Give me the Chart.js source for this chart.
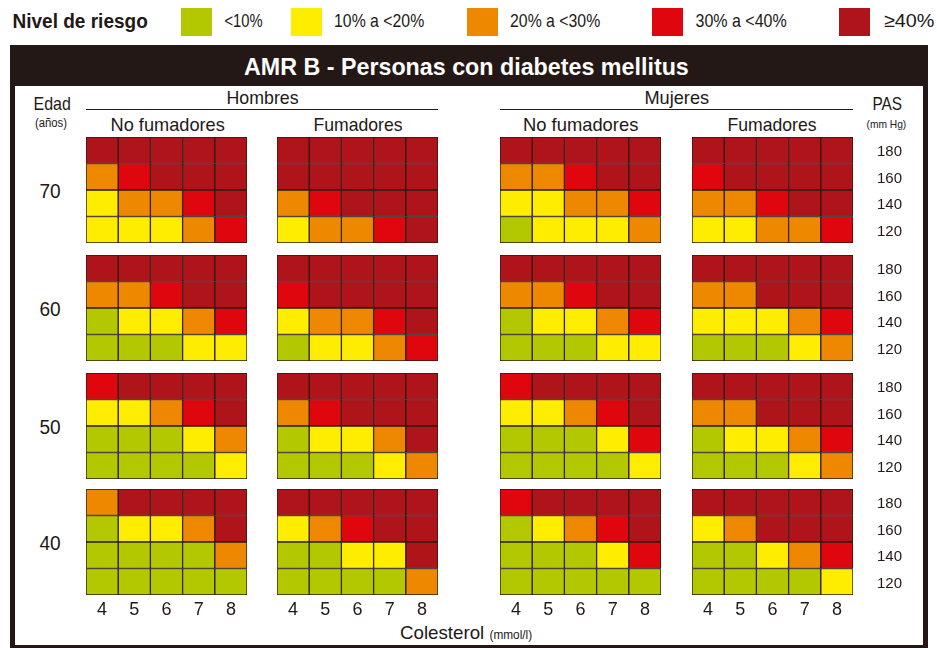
<!DOCTYPE html>
<html>
<head>
<meta charset="utf-8">
<script src="https://cdn.jsdelivr.net/npm/chart.js@4.4.1/dist/chart.umd.min.js"></script>
<style>
  html, body { margin: 0; padding: 0; background: #fff; }
  body { width: 937px; height: 648px; position: relative; overflow: hidden;
         font-family: "Liberation Sans", Arial, sans-serif; color: #231815; }
  .lbl { position: absolute; white-space: nowrap; line-height: 1.15; transform-origin: 50% 50%; }
  .sw { position: absolute; top: 8px; width: 31px; height: 28px; }
  #frame { position: absolute; left: 10px; top: 45px; width: 908px; height: 600px; border: 5px solid #231815; border-top: none; background: #fff; }
  #titlebar { position: absolute; left: 10px; top: 45px; width: 918px; height: 41px; background: #231815; }
  .hline { position: absolute; height: 1px; background: #231815; }
  .panel { position: absolute; }
</style>
</head>
<body>
<div id="frame"></div>
<div id="titlebar"></div>
<div class="hline" style="left:86px;width:352px;top:109px;"></div>
<div class="hline" style="left:500px;width:353px;top:109px;"></div>

<script>
// ---- data ----
const RISK_LEVELS = ['<10%', '10% a <20%', '20% a <30%', '30% a <40%', '≥40%'];
const CHOLESTEROL = ['4', '5', '6', '7', '8'];          // mmol/l
const SBP = ['180', '160', '140', '120'];                // mm Hg, top to bottom
const AGES = ['70', '60', '50', '40'];                   // years, top to bottom
const SEXES = ['Hombres', 'Mujeres'];
const SMOKING = ['No fumadores', 'Fumadores'];

// risk level per cell (1=<10% ... 5=>=40%), rows = SBP 180,160,140,120 ; cols = cholesterol 4..8
const hombresNoFum70 = [[5,5,5,5,5],[3,4,5,5,5],[2,3,3,4,5],[2,2,2,3,4]];
const hombresFum70   = [[5,5,5,5,5],[5,5,5,5,5],[3,4,5,5,5],[2,3,3,4,5]];
const mujeresNoFum70 = [[5,5,5,5,5],[3,3,4,5,5],[2,2,3,3,4],[1,2,2,2,3]];
const mujeresFum70   = [[5,5,5,5,5],[4,5,5,5,5],[3,3,4,5,5],[2,2,3,3,4]];

const hombresNoFum60 = [[5,5,5,5,5],[3,3,4,5,5],[1,2,2,3,4],[1,1,1,2,2]];
const hombresFum60   = [[5,5,5,5,5],[4,5,5,5,5],[2,3,3,4,5],[1,2,2,3,4]];
const mujeresNoFum60 = [[5,5,5,5,5],[3,3,4,5,5],[1,2,2,3,4],[1,1,1,2,2]];
const mujeresFum60   = [[5,5,5,5,5],[3,3,5,5,5],[2,2,2,3,4],[1,1,1,2,3]];

const hombresNoFum50 = [[4,5,5,5,5],[2,2,3,4,5],[1,1,1,2,3],[1,1,1,1,2]];
const hombresFum50   = [[5,5,5,5,5],[3,4,5,5,5],[1,2,2,3,5],[1,1,1,2,3]];
const mujeresNoFum50 = [[4,5,5,5,5],[2,2,3,4,5],[1,1,1,2,4],[1,1,1,1,2]];
const mujeresFum50   = [[5,5,5,5,5],[3,3,5,5,5],[1,2,2,3,4],[1,1,1,2,3]];

const hombresNoFum40 = [[3,5,5,5,5],[1,2,2,3,5],[1,1,1,1,3],[1,1,1,1,1]];
const hombresFum40   = [[5,5,5,5,5],[2,3,4,5,5],[1,1,2,2,5],[1,1,1,1,3]];
const mujeresNoFum40 = [[4,5,5,5,5],[1,2,3,4,5],[1,1,1,2,4],[1,1,1,1,1]];
const mujeresFum40   = [[5,5,5,5,5],[2,3,5,5,5],[1,1,2,3,4],[1,1,1,1,2]];

const GRID = [
  [hombresNoFum70, hombresFum70, mujeresNoFum70, mujeresFum70],
  [hombresNoFum60, hombresFum60, mujeresNoFum60, mujeresFum60],
  [hombresNoFum50, hombresFum50, mujeresNoFum50, mujeresFum50],
  [hombresNoFum40, hombresFum40, mujeresNoFum40, mujeresFum40]
];

// ---- styles / layout ----
const COLORS = ['#b4c800', '#ffed00', '#ee8800', '#e0060e', '#b0141b'];
const INK = '#231815';
const FONT = '"Liberation Sans", Arial, sans-serif';
const PANEL_LEFT = [86, 277, 500, 692];
const PANEL_TOP = [137, 255, 373, 489];
const PANEL_W = 161, PANEL_H = 106;
const XAXIS_H = 30, YAXIS_W = 72;

// text helper: centered at (cx, cy), squeezed horizontally to width w
const pending = [];
function label(html, cx, cy, size, opts = {}) {
  const d = document.createElement('div');
  d.className = 'lbl';
  d.innerHTML = html;
  d.style.fontSize = size + 'px';
  if (opts.bold) d.style.fontWeight = 'bold';
  if (opts.color) d.style.color = opts.color;
  d.style.left = cx + 'px';
  d.style.top = cy + 'px';
  document.body.appendChild(d);
  pending.push({ d, w: opts.w });
  return d;
}
function fitLabels() {
  pending.forEach(({ d, w }) => {
    const nat = d.offsetWidth, h = d.offsetHeight;
    const k = w ? w / nat : 1;
    d.style.marginLeft = (-nat / 2) + 'px';
    d.style.marginTop = (-h / 2) + 'px';
    d.style.transform = `scaleX(${k})`;
  });
}

// header / legend
label('Nivel de riesgo', 79.5, 21, 20, { bold: true, w: 135 });
const swLeft = [181, 291, 467, 652, 839];
const legTextBox = [[224, 262], [334, 424], [510, 600], [695, 786], [884, 934]];
RISK_LEVELS.forEach((lab, i) => {
  const s = document.createElement('div');
  s.className = 'sw'; s.style.left = swLeft[i] + 'px'; s.style.background = COLORS[i];
  document.body.appendChild(s);
  const [a, b] = legTextBox[i];
  label(lab.replace('<', '&lt;'), (a + b) / 2, 21, 19, { w: b - a });
});
label('AMR B - Personas con diabetes mellitus', 466, 67, 24, { bold: true, color: '#fff', w: 445 });

label('Edad', 51.5, 104, 19, { w: 37 });
label('(años)', 51, 124, 12, { w: 32 });
label('PAS', 887, 104, 19, { w: 30 });
label('(mm Hg)', 886, 124, 11, { w: 40 });

label(SEXES[0], 262, 98, 19, { w: 72 });
label(SEXES[1], 677, 98, 19, { w: 65 });
label(SMOKING[0], 167, 125, 19, { w: 114 });
label(SMOKING[1], 357.5, 125, 19, { w: 89 });
label(SMOKING[0], 580.5, 125, 19, { w: 115 });
label(SMOKING[1], 771.5, 125, 19, { w: 89 });

AGES.forEach((a, r) => label(a, 50, PANEL_TOP[r] + PANEL_H / 2 + 1, 20, { w: 21 }));

label('Colesterol <span style="font-size:12px">(mmol/l)</span>', 466, 633, 19, { w: 132 });

// panels
GRID.forEach((row, r) => {
  row.forEach((cells, p) => {
    const showX = r === AGES.length - 1;
    const showY = p === row.length - 1;
    const w = PANEL_W + (showY ? YAXIS_W : 0);
    const h = PANEL_H + (showX ? XAXIS_H : 0);
    const box = document.createElement('div');
    box.className = 'panel';
    box.style.cssText = `left:${PANEL_LEFT[p]}px;top:${PANEL_TOP[r]}px;width:${w}px;height:${h}px;`;
    const cv = document.createElement('canvas');
    box.appendChild(cv);
    document.body.appendChild(box);

    // datasets stacked bottom (120) to top (180)
    const datasets = [];
    for (let k = SBP.length - 1; k >= 0; k--) {
      datasets.push({
        label: SBP[k],
        data: cells[k].map(() => 1),
        backgroundColor: cells[k].map(v => COLORS[v - 1]),
        borderColor: '#2a1a12',
        borderWidth: 1,
        borderSkipped: false,
        barPercentage: 1,
        categoryPercentage: 1
      });
    }

    new Chart(cv, {
      type: 'bar',
      data: { labels: CHOLESTEROL, datasets },
      options: {
        responsive: true,
        maintainAspectRatio: false,
        animation: false,
        devicePixelRatio: 1,
        layout: { padding: 0 },
        plugins: { legend: { display: false }, tooltip: { enabled: false }, title: { display: false } },
        scales: {
          x: {
            stacked: true,
            display: showX,
            grid: { display: false, drawTicks: false },
            border: { display: false },
            ticks: { color: INK, font: { family: FONT, size: 18 }, padding: 4, maxRotation: 0 },
            afterFit: s => { s.height = showX ? XAXIS_H : 0; s.paddingLeft = 0; s.paddingRight = 0; }
          },
          y: {
            stacked: true,
            min: 0, max: 4,
            position: 'right',
            display: showY,
            grid: { display: false, drawTicks: false },
            border: { display: false },
            afterBuildTicks: ax => { ax.ticks = [0.5, 1.5, 2.5, 3.5].map(v => ({ value: v })); },
            ticks: {
              color: INK, font: { family: FONT, size: 15 }, padding: 24, crossAlign: 'center', labelOffset: 2,
              callback: v => SBP[SBP.length - 1 - Math.floor(v)]
            },
            afterFit: s => { s.width = showY ? YAXIS_W : 0; s.paddingTop = 0; s.paddingBottom = 0; }
          }
        }
      }
    });
  });
});

fitLabels();
</script>
</body>
</html>
